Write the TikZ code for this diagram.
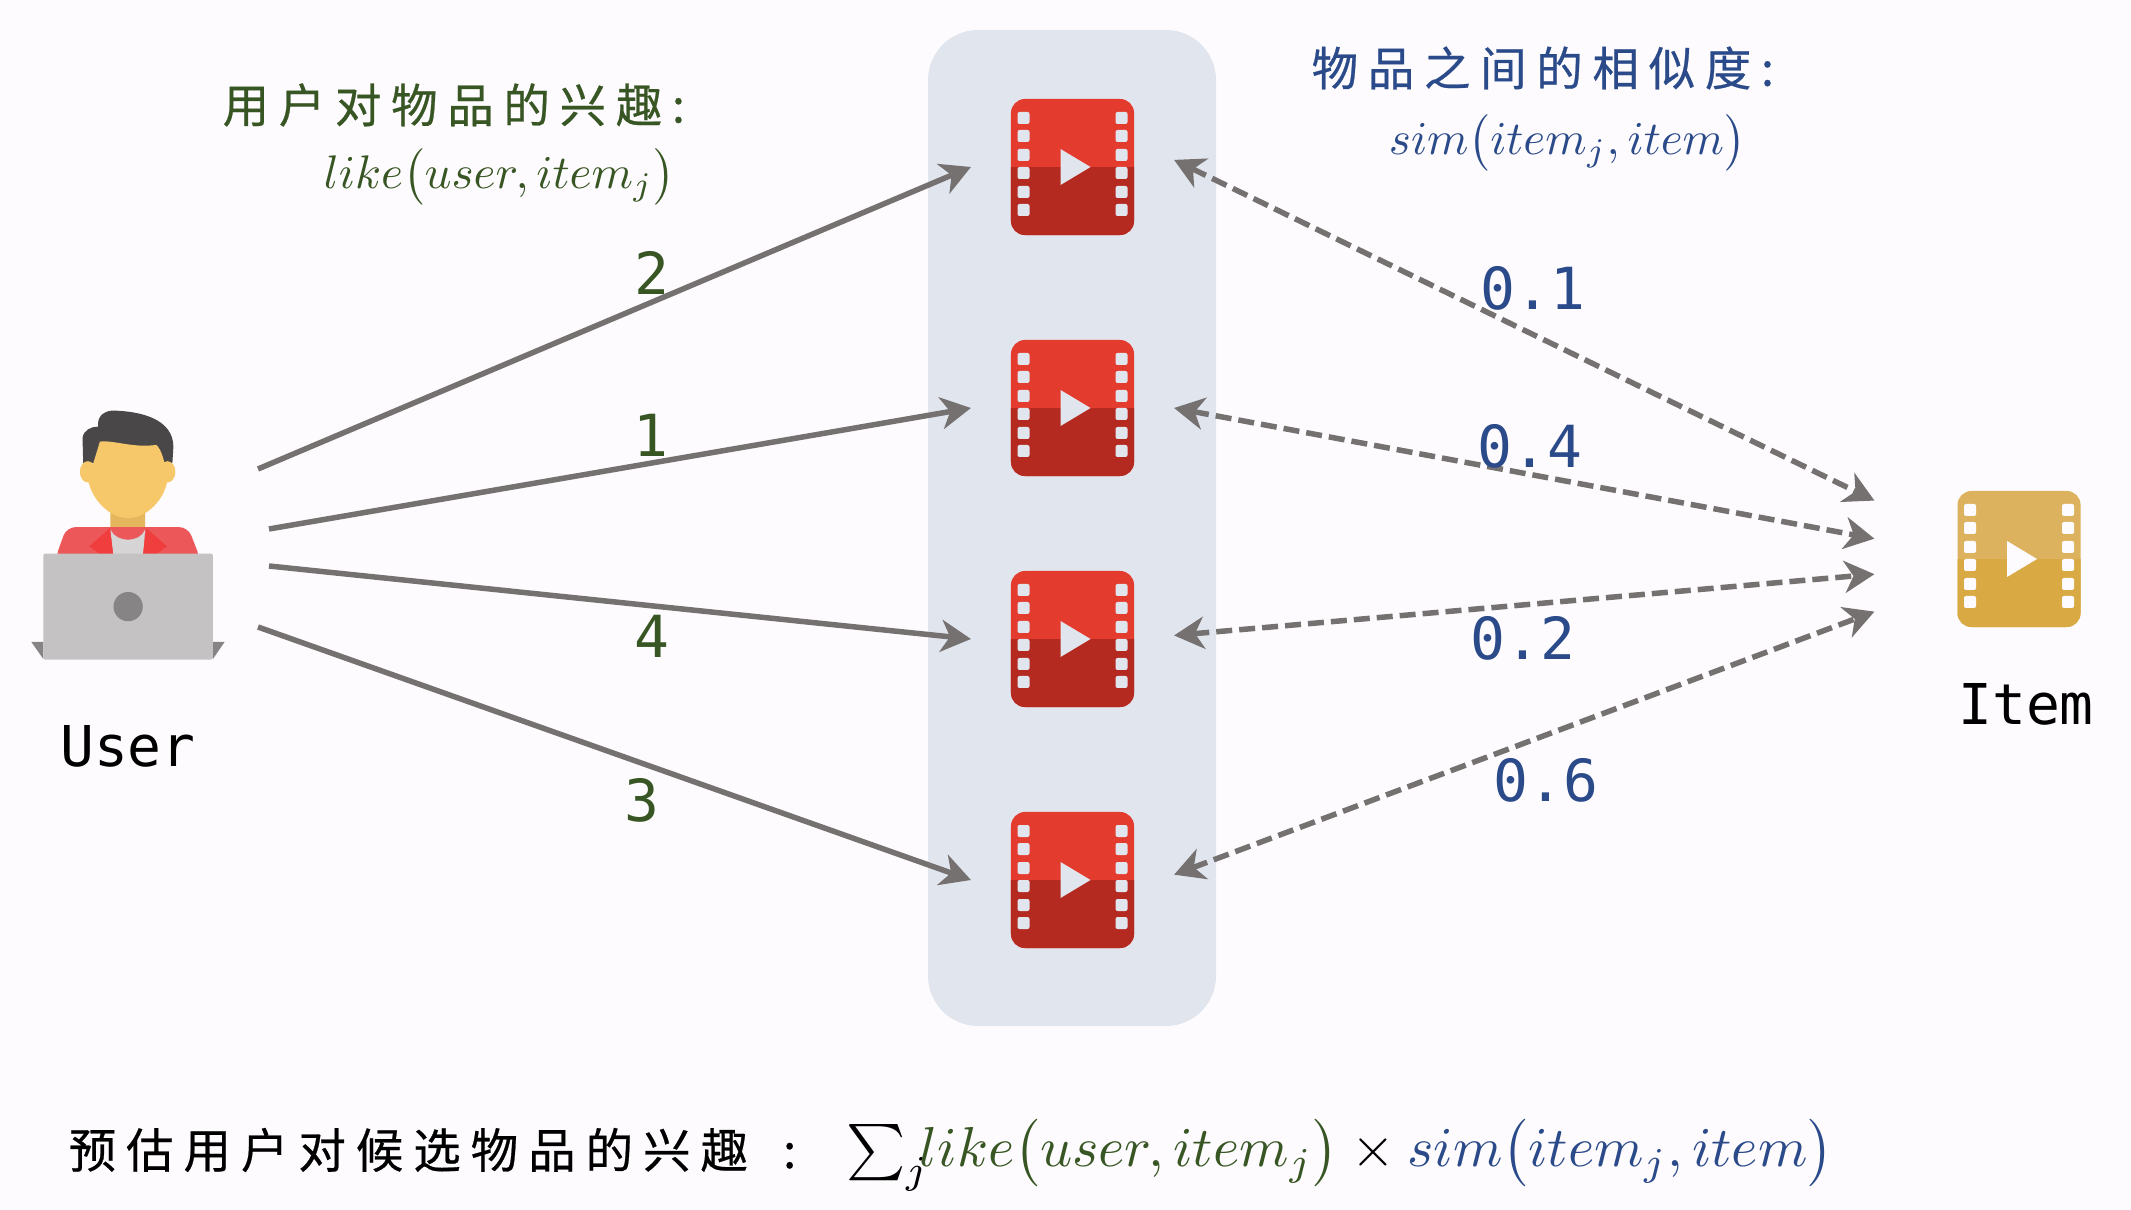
\documentclass[tikz,border=0pt]{standalone}
\usepackage{fontspec}
\usepackage{tikz}
\usetikzlibrary{arrows.meta,positioning}
\newfontfamily\cjk[LetterSpace=21,FakeBold=0.5]{Noto Sans CJK SC}
\newfontfamily\monofont{DejaVu Sans Mono}
\definecolor{pagebg}{RGB}{253,251,253}
\definecolor{panelbg}{RGB}{225,229,238}
\definecolor{linegray}{RGB}{118,113,113}
\definecolor{likegreen}{RGB}{55,86,35}
\definecolor{simblue}{RGB}{42,74,138}
\definecolor{filmred}{RGB}{227,59,46}
\definecolor{filmdark}{RGB}{180,42,32}
\definecolor{goldtop}{RGB}{221,178,94}
\definecolor{goldbot}{RGB}{217,169,68}
\definecolor{skin}{RGB}{246,200,105}
\definecolor{skindark}{RGB}{230,182,92}
\definecolor{hair}{RGB}{74,71,73}
\definecolor{jacket}{RGB}{236,88,90}
\definecolor{lapel}{RGB}{240,62,62}
\definecolor{laptop}{RGB}{197,194,195}
\definecolor{laptopdark}{RGB}{134,132,133}
\newcommand{\likefn}{like\bigl(user,item_j\bigr)}
\newcommand{\simfn}{sim\bigl(item_j,item\bigr)}
\tikzset{
    filmicon/.style n args={4}{rectangle, rounded corners=0.14cm, minimum width=1.23cm, minimum height=1.36cm, inner sep=0pt, outer sep=#4, fill=#1,
        path picture={
            \begin{scope}[shift={(path picture bounding box.center)}, x=0.01cm, y=-0.01cm, sharp corners]
                \fill[#2] (-70,0) rectangle (70,80);
                \foreach \hy in {-49,-31,-12,6,25,43} {
                    \fill[#3, rounded corners=0.02cm] (-55,\hy-6) rectangle (-43,\hy+6);
                    \fill[#3, rounded corners=0.02cm] (43,\hy-6) rectangle (55,\hy+6);
                }
                \fill[#3] (-12,-18) -- (-12,18) -- (18,0) -- cycle;
            \end{scope}
        }},
    videoicon/.style={filmicon={filmred}{filmdark}{panelbg}{0.40cm}},
    itemicon/.style={filmicon={goldtop}{goldbot}{pagebg}{0.83cm}}
}
\begin{document}
\begin{tikzpicture}[
    x=0.01cm, y=-0.01cm,
    arrow/.style={-{Stealth[length=3mm, width=3.2mm, inset=0.9mm]}, line width=0.055cm, linegray},
    dasharrow/.style={{Stealth[length=3mm, width=3.2mm, inset=0.9mm]}-{Stealth[length=3mm, width=3.2mm, inset=0.9mm]}, line width=0.055cm, linegray, dash pattern=on 0.16cm off 0.07cm},
    heading/.style={anchor=west, inner sep=0pt, font=\fontsize{13.2}{16}\selectfont\cjk},
    formula/.style={anchor=west, inner sep=0pt, transform shape},
    score/.style={font=\fontsize{16.5}{20}\selectfont\monofont, inner sep=0pt},
    caption/.style={font=\fontsize{16}{19}\selectfont\monofont, inner sep=0pt}
]
    \useasboundingbox (0,0) rectangle (2131,1210);
    \fill[pagebg] (0,0) rectangle (2131,1210);
    \fill[panelbg, rounded corners=0.5cm] (928,30) rectangle (1216,1026);

    % person at the laptop
    \begin{scope}[shift={(0,380)}, x=0.003333cm, y=-0.003333cm]
        \fill[hair] (250,250) -- (248,175) .. controls (250,150) and (275,140) .. (295,140) .. controls (290,105) and (320,90) .. (345,92) .. controls (430,95) and (520,120) .. (521,200) -- (518,250) -- cycle;
        \fill[skindark] (332,380) -- (436,380) -- (436,450) .. controls (420,490) and (350,490) .. (332,450) -- cycle;
        \fill[jacket, rounded corners=0.09cm] (165,540) -- (200,442) -- (565,442) -- (603,540) -- cycle;
        \fill[laptop!70!white] (332,450) .. controls (350,490) and (420,490) .. (436,450) -- (430,525) -- (340,525) -- cycle;
        \fill[lapel] (330,445) -- (268,500) -- (300,523) -- (340,523) -- cycle;
        \fill[lapel] (440,445) -- (502,500) -- (470,523) -- (430,523) -- cycle;
        \fill[skin] (264,276) ellipse (24 and 32);
        \fill[skin] (503,276) ellipse (24 and 32);
        \fill[skin] (300,185) .. controls (340,180) and (400,205) .. (470,195) .. controls (485,210) and (495,240) .. (503,300) .. controls (495,360) and (440,415) .. (385,415) .. controls (330,415) and (275,360) .. (265,300) .. controls (280,250) and (290,220) .. (300,185) -- cycle;
        \fill[laptopdark] (94,787) -- (130,787) -- (130,838) -- cycle;
        \fill[laptopdark] (675,787) -- (640,787) -- (640,838) -- cycle;
        \fill[laptop, rounded corners=0.02cm] (130,522) rectangle (640,840);
        \fill[laptopdark] (385,681) circle (44);
    \end{scope}

    \node[caption] (user) at (128,746) {User};
    \coordinate (u1) at (258,469);
    \coordinate (u2) at (269,529);
    \coordinate (u3) at (269,566);
    \coordinate (u4) at (258,627);

    \node[videoicon] (v1) at (1072.5,167) {};
    \node[videoicon] (v2) at (1072.5,408) {};
    \node[videoicon] (v3) at (1072.5,639) {};
    \node[videoicon] (v4) at (1072.5,880) {};

    \node[itemicon] (item) at (2019,559) {};
    \node[caption] (itemname) at (2026,704) {Item};

    \draw[arrow] (u1) -- (v1.west);
    \draw[arrow] (u2) -- (v2.west);
    \draw[arrow] (u3) -- (v3.west);
    \draw[arrow] (u4) -- (v4.west);

    \draw[dasharrow] (v1.4) -- (item.158);
    \draw[dasharrow] (v2.east) -- (item.172);
    \draw[dasharrow] (v3.2) -- (item.186);
    \draw[dasharrow] (v4.3) -- (item.200);

    \node[score, likegreen] (like1) at (652,273) {2};
    \node[score, likegreen] (like2) at (651,435) {1};
    \node[score, likegreen] (like3) at (652,636) {4};
    \node[score, likegreen] (like4) at (642,800) {3};

    \node[score, simblue] (sim1) at (1533,288) {0.1};
    \node[score, simblue] (sim2) at (1530,446) {0.4};
    \node[score, simblue] (sim3) at (1523,638) {0.2};
    \node[score, simblue] (sim4) at (1546,780) {0.6};

    \node[heading, likegreen] (liketitle) at (222,105) {用户对物品的兴趣:};
    \node[formula, scale=1.34, likegreen] (likeform) at (323,177) {$\likefn$};
    \node[heading, simblue] (simtitle) at (1311,68) {物品之间的相似度:};
    \node[formula, scale=1.34, simblue] (simform) at (1388,143) {$\simfn$};

    \node[heading, font=\fontsize{13.5}{16}\selectfont\cjk] (predict) at (68,1150) {预估用户对候选物品的兴趣\hspace{0.35cm}:};
    \node[formula, scale=1.6] (total) at (845,1155) {$\sum_j\!\! \textcolor{likegreen}{\likefn} \times \textcolor{simblue}{\simfn}$};
\end{tikzpicture}
\end{document}
